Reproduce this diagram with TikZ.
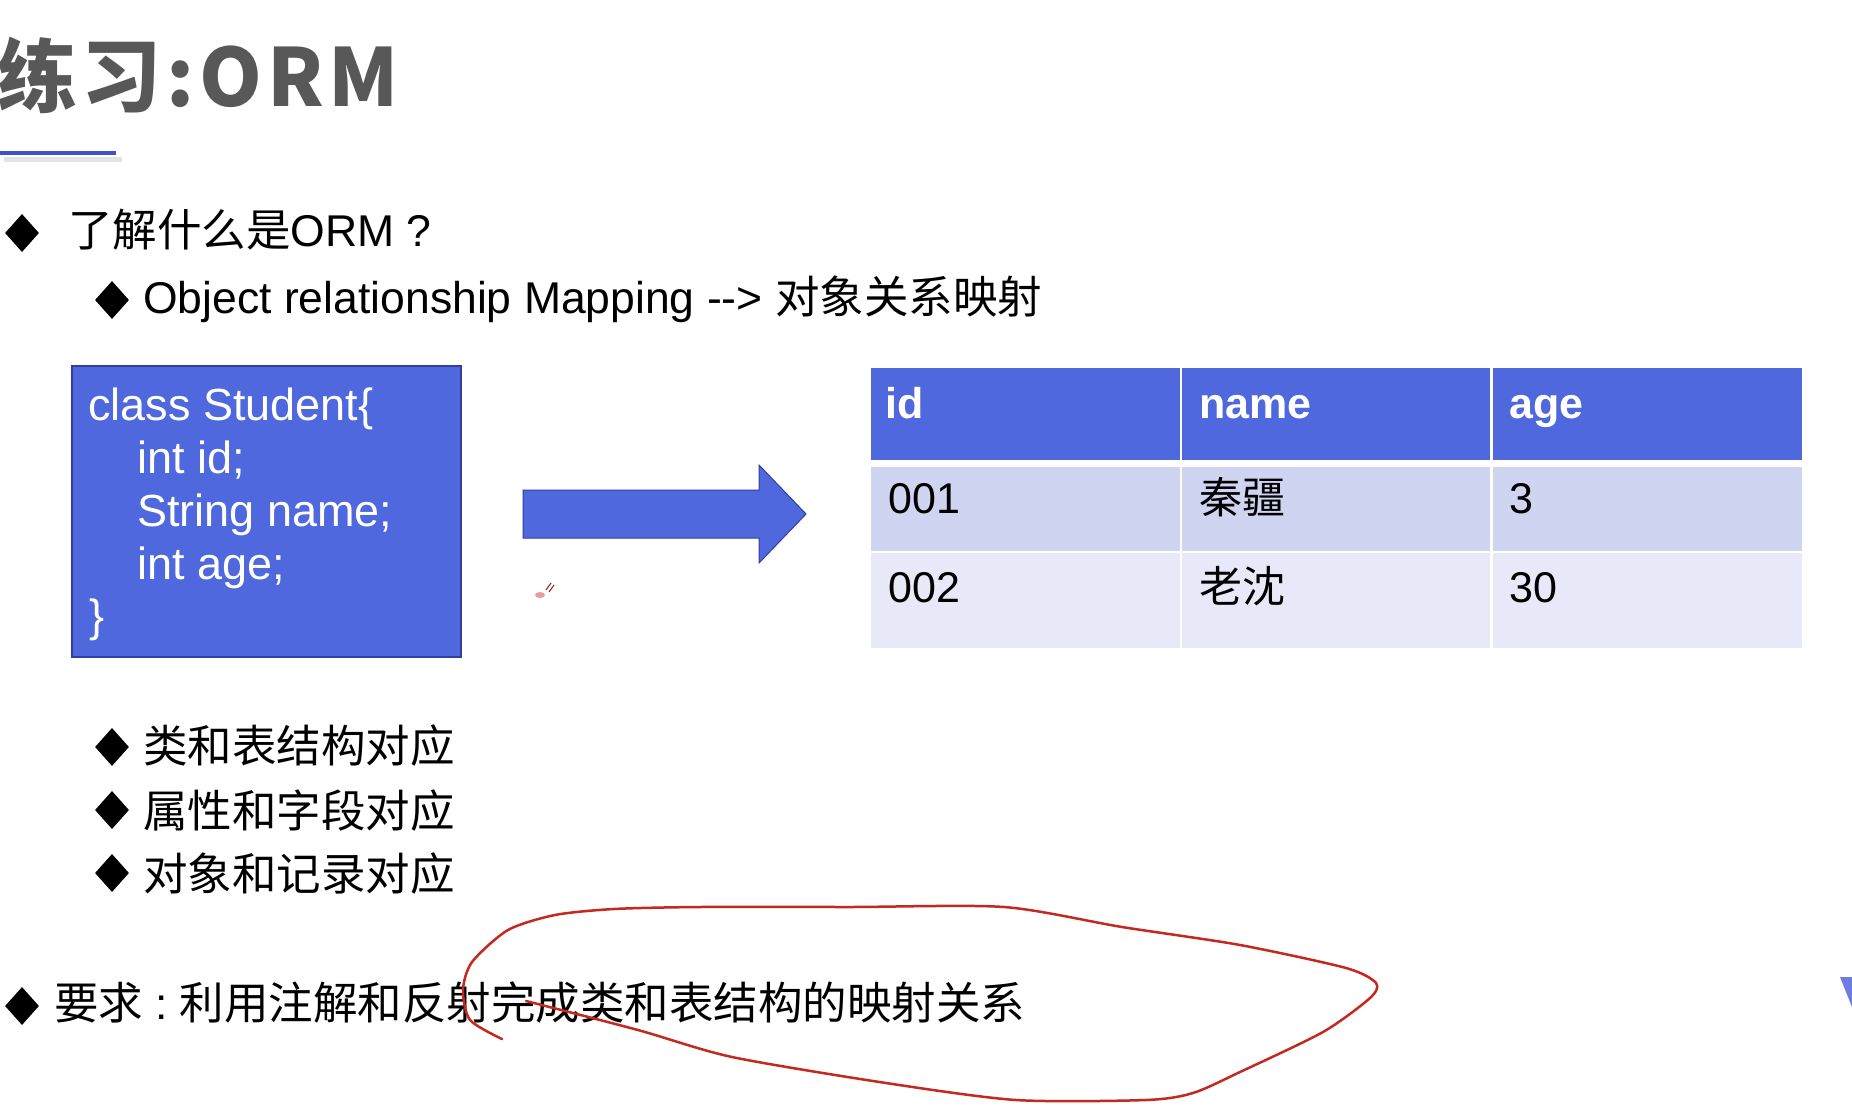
\documentclass[tikz,border=0pt]{standalone}
\usepackage{fontspec}
\setmainfont{Liberation Sans}
\newfontfamily\cjk{Noto Sans CJK SC}
\usetikzlibrary{shapes.geometric}
\definecolor{hdrblue}{RGB}{80,104,222}
\definecolor{boxedge}{RGB}{48,62,160}
\definecolor{rowa}{RGB}{207,212,241}
\definecolor{rowb}{RGB}{231,233,248}
\definecolor{titlegray}{RGB}{88,88,88}
\definecolor{inkred}{RGB}{196,40,30}
\definecolor{lineblue}{RGB}{64,80,200}
\definecolor{edgeblue}{RGB}{108,124,226}
\tikzset{
  bul/.style={diamond, fill=black, inner sep=0pt, minimum width=34pt, minimum height=38pt},
  txt/.style={anchor=base west, inner sep=0pt, font=\fontsize{44.5}{48}\selectfont},
  codetxt/.style={anchor=base west, inner sep=0pt, text=white, font=\fontsize{45}{48}\selectfont},
  cell/.style={anchor=north west, inner sep=0pt, draw=none},
  hdrtxt/.style={anchor=base west, inner sep=0pt, text=white, font=\bfseries\fontsize{43}{48}\selectfont},
  celltxt/.style={anchor=base west, inner sep=0pt, text=black, font=\fontsize{43}{48}\selectfont},
}
\begin{document}
\begin{tikzpicture}[x=1pt,y=-1pt]
\path[use as bounding box, fill=white] (0,0) rectangle (1852,1110);

% title
\node[anchor=base west, inner sep=0pt, text=titlegray, font=\cjk\bfseries\fontsize{80}{82}\selectfont] (title) at (-3,107) {\addfontfeature{LetterSpace=6}练习:ORM};
\draw[gray!22, line width=5pt] (4,160) -- (122,160);
\draw[lineblue, line width=4pt] (0,153) -- (116,153);

% bullets top
\node[bul] (b1) at (22,233) {};
\node[txt] (t1) at (68,247) {{\cjk 了解什么是}ORM\hspace{12pt}?};
\node[bul] (b2) at (112,300) {};
\node[txt] (t2) at (143,313) {Object relationship Mapping -{}-{}> {\cjk 对象关系映射}};

% class box
\node[cell, fill=hdrblue, draw=boxedge, line width=1.5pt, minimum width=389pt, minimum height=291pt] (cls) at (71,365) {};
\node[codetxt] (c1) at (88,420) {class Student\{};
\node[codetxt] (c2) at (137,473) {int id;};
\node[codetxt] (c3) at (137,526) {String name;};
\node[codetxt] (c4) at (137,579) {int age;};
\node[codetxt] (c5) at (89,631) {\}};

% big arrow
\filldraw[fill=hdrblue, draw=boxedge, line width=1pt] (523,490) -- (759,490) -- (759,465) -- (806,514) -- (759,563) -- (759,538) -- (523,538) -- cycle;

% small red cursor mark
\fill[inkred!45] (540,595) ellipse (5pt and 3pt);
\draw[inkred!70!black, line width=1pt] (546,590) -- (551,583);
\draw[inkred!70!black, line width=1pt] (549,592) -- (554,585);

% table
\node[cell, fill=hdrblue, minimum width=309pt, minimum height=92pt] (h1) at (871,368) {};
\node[cell, fill=hdrblue, minimum width=308pt, minimum height=92pt] (h2) at (1182,368) {};
\node[cell, fill=hdrblue, minimum width=309pt, minimum height=92pt] (h3) at (1493,368) {};
\node[cell, fill=rowa, minimum width=309pt, minimum height=84pt] (r11) at (871,467) {};
\node[cell, fill=rowa, minimum width=308pt, minimum height=84pt] (r12) at (1182,467) {};
\node[cell, fill=rowa, minimum width=309pt, minimum height=84pt] (r13) at (1493,467) {};
\node[cell, fill=rowb, minimum width=309pt, minimum height=95pt] (r21) at (871,553) {};
\node[cell, fill=rowb, minimum width=308pt, minimum height=95pt] (r22) at (1182,553) {};
\node[cell, fill=rowb, minimum width=309pt, minimum height=95pt] (r23) at (1493,553) {};

\node[hdrtxt] (lh1) at (885,418) {id};
\node[hdrtxt] (lh2) at (1199,418) {name};
\node[hdrtxt] (lh3) at (1509,418) {age};
\node[celltxt] (l11) at (888,513) {001};
\node[celltxt] (l12) at (1199,513) {\cjk 秦疆};
\node[celltxt] (l13) at (1509,513) {3};
\node[celltxt] (l21) at (888,602) {002};
\node[celltxt] (l22) at (1199,602) {\cjk 老沈};
\node[celltxt] (l23) at (1509,602) {30};

% bullets lower
\node[bul] (b3) at (112,747) {};
\node[txt] (t3) at (143,762) {\cjk 类和表结构对应};
\node[bul] (b4) at (112,810) {};
\node[txt] (t4) at (143,827) {\cjk 属性和字段对应};
\node[bul] (b5) at (112,873) {};
\node[txt] (t5) at (143,890) {\cjk 对象和记录对应};

\node[bul] (b6) at (22,1006) {};
\node[txt] (t6) at (54,1019) {{\cjk 要求}\hspace{12pt}:\hspace{12pt}{\cjk 利用注解和反射完成类和表结构的映射关系}};

% hand-drawn red loop
\draw[inkred, line width=2.5pt, line cap=round, line join=round] plot[smooth, tension=0.45] coordinates {
 (502,1039) (470,1020) (463,990) (472,962) (508,930) (555,915) (614,909) (700,907)
 (850,907) (1004,907) (1122,927) (1240,945) (1346,968) (1376,983) (1370,998) (1323,1032)
 (1240,1072) (1193,1093) (1146,1100) (1016,1100) (886,1083) (732,1057) (638,1030) (526,1001)};

% blue fragment at right edge
\fill[edgeblue] (1840,977) -- (1852,977) -- (1852,1007) -- cycle;
\end{tikzpicture}
\end{document}
